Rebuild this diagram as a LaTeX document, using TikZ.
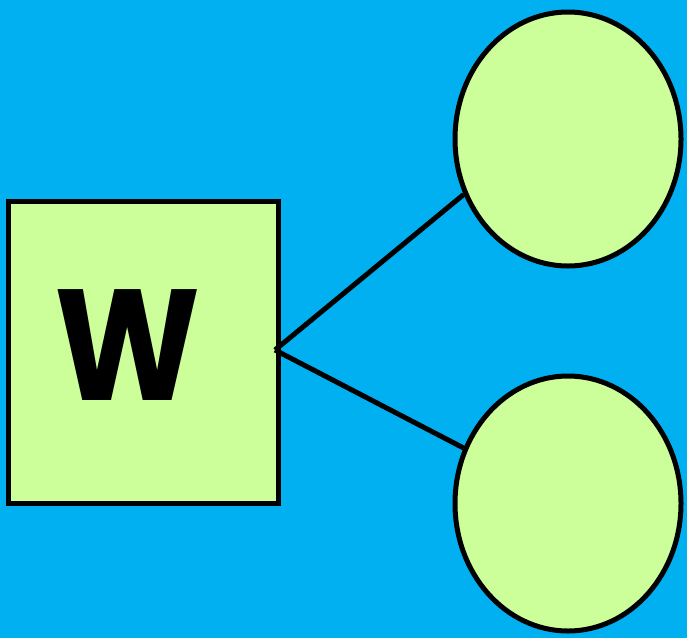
\documentclass[tikz,border=0pt]{standalone}
\usepackage{fontspec}
\setmainfont{Poppins}
\usetikzlibrary{shapes.geometric}
\definecolor{bgblue}{RGB}{0,176,240}
\definecolor{lgreen}{RGB}{204,255,153}
\tikzset{
  shapebox/.style={draw=black, fill=lgreen, line width=5pt, inner sep=0pt},
  link/.style={draw=black, line width=5pt},
}
\begin{document}
\begin{tikzpicture}[x=1pt,y=-1pt]
\fill[bgblue] (0,0) rectangle (687,638);
\useasboundingbox (0,0) rectangle (687,638);
\node[shapebox, rectangle, minimum width=270pt, minimum height=302pt] (w) at (143.5,352.5) {};
\node[xscale=0.88] (wl) at (127.5,345) {\fontsize{158}{158}\selectfont\bfseries W};
\node[shapebox, ellipse, minimum width=226pt, minimum height=254pt] (e1) at (568,139) {};
\node[shapebox, ellipse, minimum width=226pt, minimum height=255pt] (e2) at (568,503.5) {};
\coordinate (j) at (275,350);
\draw[link] (j) -- (e1.208);
\draw[link] (j) -- (e2.152);
\end{tikzpicture}
\end{document}
